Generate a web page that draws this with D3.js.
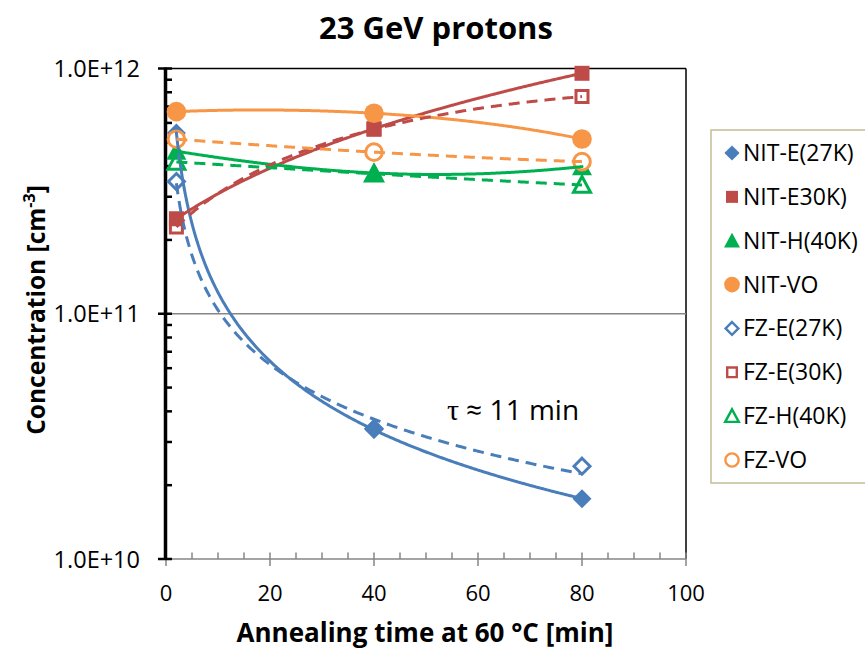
<!DOCTYPE html>
<html>
<head>
<meta charset="utf-8">
<script src="https://cdn.jsdelivr.net/npm/d3@7"></script>
<style>
  html, body { margin: 0; padding: 0; background: #fff; }
  svg { display: block; font-family: "Open Sans", "Liberation Sans", sans-serif; }
</style>
</head>
<body>
<svg id="chart" width="865" height="650"></svg>
<script>
// Annealing times (min) at which each sample was measured
const times = [2, 40, 80];

// Defect concentrations (cm^-3), one array per series
const nitE27 = [5.46e11, 3.37e10, 1.76e10];
const nitE30 = [2.44e11, 5.68e11, 9.56e11];
const nitH40 = [4.60e11, 3.75e11, 3.98e11];
const nitVO  = [6.67e11, 6.57e11, 5.16e11];
const fzE27  = [3.46e11, 3.40e10, 2.39e10];
const fzE30  = [2.26e11, 5.65e11, 7.68e11];
const fzH40  = [4.16e11, 3.72e11, 3.35e11];
const fzVO   = [5.15e11, 4.56e11, 4.17e11];

const seriesNames = ["NIT-E(27K)", "NIT-E30K)", "NIT-H(40K)", "NIT-VO",
                     "FZ-E(27K)", "FZ-E(30K)", "FZ-H(40K)", "FZ-VO"];

const xTickValues = [0, 20, 40, 60, 80, 100];
const yTickValues = [1e10, 1e11, 1e12];
const yTickLabels = ["1.0E+10", "1.0E+11", "1.0E+12"];

const titleText = "23 GeV protons";
const xTitleText = "Annealing time at 60 °C [min]";

const blue = "#4a7ebb", red = "#be4b48", green = "#00b050", orange = "#f79646";

const series = [
  { name: seriesNames[0], values: nitE27, color: blue,   shape: "diamond",  filled: true,  fit: "power" },
  { name: seriesNames[1], values: nitE30, color: red,    shape: "square",   filled: true,  fit: "poly2" },
  { name: seriesNames[2], values: nitH40, color: green,  shape: "triangle", filled: true,  fit: "poly2" },
  { name: seriesNames[3], values: nitVO,  color: orange, shape: "circle",   filled: true,  fit: "poly2" },
  { name: seriesNames[4], values: fzE27,  color: blue,   shape: "diamond",  filled: false, fit: "power" },
  { name: seriesNames[5], values: fzE30,  color: red,    shape: "square",   filled: false, fit: "poly2" },
  { name: seriesNames[6], values: fzH40,  color: green,  shape: "triangle", filled: false, fit: "poly2" },
  { name: seriesNames[7], values: fzVO,   color: orange, shape: "circle",   filled: false, fit: "poly2" }
];
// stacking of the marker layers: each open marker sits under its filled partner
const markerOrder = [4, 0, 5, 1, 6, 2, 7, 3];

// ---- trendline fits -------------------------------------------------------
// power law y = a * t^b, least squares in log-log space
function powerFit(xs, ys) {
  const lx = xs.map(Math.log), ly = ys.map(Math.log);
  const mx = d3.mean(lx), my = d3.mean(ly);
  const b = d3.sum(lx, (v, i) => (v - mx) * (ly[i] - my)) / d3.sum(lx, v => (v - mx) ** 2);
  const a = Math.exp(my - b * mx);
  return t => a * Math.pow(t, b);
}
// second order polynomial, least squares via normal equations
function poly2Fit(xs, ys) {
  const S = k => d3.sum(xs, x => x ** k);
  const T = k => d3.sum(xs, (x, i) => x ** k * ys[i]);
  const M = [[S(0), S(1), S(2), T(0)], [S(1), S(2), S(3), T(1)], [S(2), S(3), S(4), T(2)]];
  for (let i = 0; i < 3; i++) {
    for (let j = i + 1; j < 3; j++) {
      const f = M[j][i] / M[i][i];
      for (let k = i; k < 4; k++) M[j][k] -= f * M[i][k];
    }
  }
  const c = [0, 0, 0];
  for (let i = 2; i >= 0; i--) {
    let s = M[i][3];
    for (let k = i + 1; k < 3; k++) s -= M[i][k] * c[k];
    c[i] = s / M[i][i];
  }
  return t => c[0] + c[1] * t + c[2] * t * t;
}

// ---- layout ---------------------------------------------------------------
const svg = d3.select("#chart");
const x = d3.scaleLinear().domain([0, 100]).range([166, 686]);
const y = d3.scaleLog().domain([1e10, 1e12]).range([559, 68.5]);

// plot frame: top and right edges in black, 1E+11 gridline in grey
svg.append("line").attr("x1", x(0)).attr("x2", x(100)).attr("y1", y(1e12)).attr("y2", y(1e12))
  .attr("stroke", "#000").attr("stroke-width", 1.5);
svg.append("line").attr("x1", x(100)).attr("x2", x(100)).attr("y1", y(1e12)).attr("y2", y(1e10))
  .attr("stroke", "#000").attr("stroke-width", 1.5);
svg.append("line").attr("x1", x(0)).attr("x2", x(100)).attr("y1", y(1e11)).attr("y2", y(1e11))
  .attr("stroke", "#868686").attr("stroke-width", 1.5);

// x axis (grey): major ticks cross the line, minor ticks sit inside
const xAxisG = svg.append("g").attr("transform", `translate(0,${y(1e10)})`);
xAxisG.append("line").attr("x1", x(0)).attr("x2", x(100)).attr("stroke", "#868686").attr("stroke-width", 1.5);
xAxisG.selectAll("line.minor").data(d3.range(0, 101, 5).filter(v => v % 20 !== 0)).join("line")
  .attr("class", "minor").attr("x1", d => x(d)).attr("x2", d => x(d)).attr("y1", -6.5).attr("y2", 0)
  .attr("stroke", "#868686").attr("stroke-width", 1.5);
xAxisG.selectAll("line.major").data(xTickValues).join("line")
  .attr("class", "major").attr("x1", d => x(d)).attr("x2", d => x(d)).attr("y1", -6.5).attr("y2", 7)
  .attr("stroke", "#868686").attr("stroke-width", 1.5);
xAxisG.selectAll("text").data(xTickValues).join("text")
  .attr("x", d => x(d)).attr("y", 42).attr("text-anchor", "middle")
  .attr("font-size", 22).attr("fill", "#000").text(d => d);

// y axis (thick black): log scale, minor ticks at 2..9 of each decade
const yAxisG = svg.append("g");
const yMinor = [];
[1e10, 1e11].forEach(dec => d3.range(2, 10).forEach(m => yMinor.push(dec * m)));
yAxisG.selectAll("line.minor").data(yMinor).join("line")
  .attr("class", "minor").attr("x1", x(0)).attr("x2", x(0) + 6).attr("y1", d => y(d)).attr("y2", d => y(d))
  .attr("stroke", "#000").attr("stroke-width", 2.5);
yAxisG.selectAll("line.major").data(yTickValues).join("line")
  .attr("class", "major").attr("x1", x(0) - 8).attr("x2", x(0) + 6).attr("y1", d => y(d)).attr("y2", d => y(d))
  .attr("stroke", "#000").attr("stroke-width", 2.5);
yAxisG.append("line").attr("x1", x(0) - 0.5).attr("x2", x(0) - 0.5).attr("y1", y(1e12) - 1).attr("y2", y(1e10) + 1)
  .attr("stroke", "#000").attr("stroke-width", 3.5);
yAxisG.selectAll("text").data(yTickValues).join("text")
  .attr("x", 140).attr("y", d => y(d) + 8.5).attr("text-anchor", "end")
  .attr("font-size", 23.5).attr("fill", "#000").text((d, i) => yTickLabels[i]);

// titles
svg.append("text").attr("x", 436).attr("y", 39).attr("text-anchor", "middle")
  .attr("font-size", 31).attr("font-weight", "bold").text(titleText);
svg.append("text").attr("x", 425).attr("y", 642).attr("text-anchor", "middle")
  .attr("font-size", 26).attr("font-weight", "bold").text(xTitleText);
const yTitle = svg.append("text").attr("transform", "translate(45,310) rotate(-90)")
  .attr("text-anchor", "middle").attr("font-size", 24.5).attr("font-weight", "bold");
yTitle.append("tspan").text("Concentration [cm");
yTitle.append("tspan").attr("font-size", 16).attr("dy", -10).text("-3");
yTitle.append("tspan").attr("dy", 10).text("]");

// ---- markers --------------------------------------------------------------
function markerPath(shape, s) {
  const h = s / 2;
  if (shape === "diamond") return `M0,${-h}L${h},0L0,${h}L${-h},0Z`;
  if (shape === "square") return `M${-h},${-h}H${h}V${h}H${-h}Z`;
  if (shape === "triangle") return `M0,${-h}L${h},${h * 0.85}L${-h},${h * 0.85}Z`;
  return null;
}
function drawMarker(g, d, px, py, scale) {
  const k = scale || 1;
  const sw = 3 * k;
  let el;
  if (d.shape === "circle") {
    const r = (d.filled ? 9.8 : 8.3) * k;
    el = g.append("circle").attr("cx", px).attr("cy", py).attr("r", r);
  } else {
    const size = { diamond: d.filled ? 19 : 16, square: d.filled ? 15 : 12, triangle: d.filled ? 20 : 17 }[d.shape] * k;
    el = g.append("path").attr("d", markerPath(d.shape, size)).attr("transform", `translate(${px},${py})`);
  }
  if (d.filled) el.attr("fill", d.color).attr("stroke", "none");
  else el.attr("fill", "#fff").attr("stroke", d.color).attr("stroke-width", sw);
}

const markG = svg.append("g");
markerOrder.forEach(idx => {
  const s = series[idx];
  s.values.forEach((v, i) => drawMarker(markG, s, x(times[i]), y(v)));
});

// ---- trendlines (drawn over the markers) ----------------------------------
const tSamples = d3.range(times[0], times[times.length - 1] + 0.001, 0.25);
const lineG = svg.append("g").attr("fill", "none");
series.forEach(s => {
  const f = s.fit === "power" ? powerFit(times, s.values) : poly2Fit(times, s.values);
  const line = d3.line().x(t => x(t)).y(t => y(f(t))).curve(d3.curveLinear);
  lineG.append("path").attr("d", line(tSamples))
    .attr("stroke", s.color).attr("stroke-width", 3)
    .attr("stroke-linecap", s.filled ? "round" : "butt")
    .attr("stroke-dasharray", s.filled ? null : "11,7");
});

// annotation of the fitted time constant
const ann = svg.append("text").attr("x", 447).attr("y", 420).attr("font-size", 28).attr("fill", "#000");
ann.append("tspan").attr("font-family", "'Liberation Serif', 'DejaVu Serif', serif").attr("font-size", 30).text("τ");
ann.append("tspan").text(" ≈ 11 min");

// ---- legend ---------------------------------------------------------------
const legG = svg.append("g");
legG.append("rect").attr("x", 711).attr("y", 130).attr("width", 170).attr("height", 353)
  .attr("fill", "#fff").attr("stroke", "#c4bd97").attr("stroke-width", 1.5);
const legY = d3.scaleLinear().domain([0, series.length - 1]).range([153, 460]);
series.forEach((s, i) => {
  drawMarker(legG, s, 732, legY(i), 0.8);
  legG.append("text").attr("x", 743).attr("y", legY(i) + 8).attr("font-size", 23).attr("fill", "#000").text(s.name);
});
</script>
</body>
</html>
